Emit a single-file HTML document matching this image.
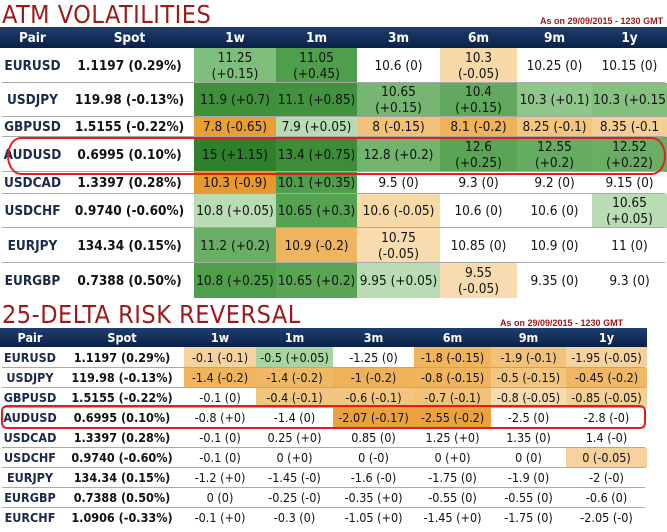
<!DOCTYPE html>
<html><head><meta charset="utf-8">
<style>
body{margin:0;width:667px;height:532px;background:#fff;position:relative;overflow:hidden;font-family:"DejaVu Sans Condensed","Liberation Sans",sans-serif;}
.t{position:absolute;color:#9b1b1b;font-family:"DejaVu Sans Condensed","Liberation Sans",sans-serif;font-size:25px;letter-spacing:0.5px;line-height:1;}
.asof{position:absolute;color:#a01818;font-size:9px;font-weight:bold;font-family:"Liberation Sans",sans-serif;}
.hdr{position:absolute;left:0;background:linear-gradient(#1e3f6e,#0a2148);}
.c{position:absolute;display:flex;align-items:center;justify-content:center;text-align:center;color:#111;box-sizing:border-box;}
.h{color:#fff;font-weight:bold;}
.line{position:absolute;height:1px;background:#a8a8a8;}
.oval{position:absolute;border:2px solid #e02020;border-radius:14px/50%;box-sizing:border-box;}
</style></head><body>
<div class="t" style="left:2px;top:2px">ATM VOLATILITIES</div>
<div class="asof" style="left:540px;top:16px">As on 29/09/2015 - 1230 GMT</div>
<div class="t" style="left:2px;top:302px">25-DELTA RISK REVERSAL</div>
<div class="asof" style="left:500px;top:318px">As on 29/09/2015 - 1230 GMT</div>
<div id="root"></div>
<script>
const headers=["Pair","Spot","1w","1m","3m","6m","9m","1y"];
const pairs1=["EURUSD","USDJPY","GBPUSD","AUDUSD","USDCAD","USDCHF","EURJPY","EURGBP"];
const spots1=["1.1197 (0.29%)","119.98 (-0.13%)","1.5155 (-0.22%)","0.6995 (0.10%)","1.3397 (0.28%)","0.9740 (-0.60%)","134.34 (0.15%)","0.7388 (0.50%)"];
const atm=[
["11.25<br>(+0.15)","11.05<br>(+0.45)","10.6 (0)","10.3<br>(-0.05)","10.25 (0)","10.15 (0)"],
["11.9 (+0.7)","11.1 (+0.85)","10.65<br>(+0.15)","10.4<br>(+0.15)","10.3 (+0.1)","10.3 (+0.15"],
["7.8 (-0.65)","7.9 (+0.05)","8 (-0.15)","8.1 (-0.2)","8.25 (-0.1)","8.35 (-0.1"],
["15 (+1.15)","13.4 (+0.75)","12.8 (+0.2)","12.6<br>(+0.25)","12.55<br>(+0.2)","12.52<br>(+0.22)"],
["10.3 (-0.9)","10.1 (+0.35)","9.5 (0)","9.3 (0)","9.2 (0)","9.15 (0)"],
["10.8 (+0.05)","10.65 (+0.3)","10.6 (-0.05)","10.6 (0)","10.6 (0)","10.65<br>(+0.05)"],
["11.2 (+0.2)","10.9 (-0.2)","10.75<br>(-0.05)","10.85 (0)","10.9 (0)","11 (0)"],
["10.8 (+0.25)","10.65 (+0.2)","9.95 (+0.05)","9.55<br>(-0.05)","9.35 (0)","9.3 (0)"]];
const atmColors=[
["#80bf7b","#4f9e4b","#fff","#f8d9a8","#fff","#fff"],
["#3f8f3b","#42913e","#76b672","#62a85e","#90c68b","#86c080"],
["#e8a035","#badcb4","#f3c27a","#eeb25a","#f3c680","#f5cf95"],
["#2f7f2c","#3c8c38","#72b46e","#5aa456","#66ab62","#6aae66"],
["#e8992e","#4f9e4b","#fff","#fff","#fff","#fff"],
["#badcb4","#55a251","#f8d9a8","#fff","#fff","#badcb4"],
["#6aae66","#edb55f","#f8dcaf","#fff","#fff","#fff"],
["#4f9e4b","#5aa456","#badcb4","#f8dcaf","#fff","#fff"]];
const rowY1=[48,83,117,137,172,194,228,263,298];
const colX1=[0,65,194,276,357,440,517,592,667];
const pairs2=["EURUSD","USDJPY","GBPUSD","AUDUSD","USDCAD","USDCHF","EURJPY","EURGBP","EURCHF"];
const spots2=["1.1197 (0.29%)","119.98 (-0.13%)","1.5155 (-0.22%)","0.6995 (0.10%)","1.3397 (0.28%)","0.9740 (-0.60%)","134.34 (0.15%)","0.7388 (0.50%)","1.0906 (-0.33%)"];
const rr=[
["-0.1 (-0.1)","-0.5 (+0.05)","-1.25 (0)","-1.8 (-0.15)","-1.9 (-0.1)","-1.95 (-0.05)"],
["-1.4 (-0.2)","-1.4 (-0.2)","-1 (-0.2)","-0.8 (-0.15)","-0.5 (-0.15)","-0.45 (-0.2)"],
["-0.1 (0)","-0.4 (-0.1)","-0.6 (-0.1)","-0.7 (-0.1)","-0.8 (-0.05)","-0.85 (-0.05)"],
["-0.8 (+0)","-1.4 (0)","-2.07 (-0.17)","-2.55 (-0.2)","-2.5 (0)","-2.8 (-0)"],
["-0.1 (0)","0.25 (+0)","0.85 (0)","1.25 (+0)","1.35 (0)","1.4 (-0)"],
["-0.1 (0)","0 (+0)","0 (-0)","0 (+0)","0 (0)","0 (-0.05)"],
["-1.2 (+0)","-1.45 (-0)","-1.6 (-0)","-1.75 (0)","-1.9 (0)","-2 (-0)"],
["0 (0)","-0.25 (-0)","-0.35 (+0)","-0.55 (0)","-0.55 (0)","-0.6 (0)"],
["-0.1 (+0)","-0.3 (0)","-1.05 (+0)","-1.45 (+0)","-1.75 (0)","-2.05 (-0)"]];
const rrColors=[
["#f6d29e","#a9d3a1","#fff","#efb45c","#f3c27a","#f6d29e"],
["#efb45c","#f0b865","#eeb25a","#efb45c","#f3c680","#f0b865"],
["#fff","#f3c680","#f3c680","#f3c27a","#f8dcaf","#f5cf95"],
["#fff","#fff","#e9a23e","#e9a23e","#fff","#fff"],
["#fff","#fff","#fff","#fff","#fff","#fff"],
["#fff","#fff","#fff","#fff","#fff","#f6d29e"],
["#fff","#fff","#fff","#fff","#fff","#fff"],
["#fff","#fff","#fff","#fff","#fff","#fff"],
["#fff","#fff","#fff","#fff","#fff","#fff"]];
const rowY2=[347,368,388,408,428,448,468,488,508,528];
const colX2=[0,60,184,256,333,414,491,566,647];

const root=document.getElementById('root');
function box(cls,x,y,w,h,html,fs){
  const d=document.createElement('div');d.className=cls;
  d.style.left=x+'px';d.style.top=y+'px';d.style.width=w+'px';d.style.height=h+'px';
  d.style.fontSize=fs+'px';d.style.lineHeight='16px';d.innerHTML=html;root.appendChild(d);return d;}
function table(prefix,hy,hh,colX,rowY,pairs,spots,vals,cols,fs){
  const hb=document.createElement('div');hb.className='hdr';
  hb.style.top=hy+'px';hb.style.height=hh+'px';hb.style.width=colX[8]+'px';
  
  
  root.appendChild(hb);
  headers.forEach((h,i)=>{const d=box('c h',colX[i],hy,colX[i+1]-colX[i],hh,h,fs);
    
    });
  pairs.forEach((p,r)=>{
    const y=rowY[r],h=rowY[r+1]-y;
    const a=box('c',colX[0],y,colX[1]-colX[0],h,p,fs);a.style.fontWeight='bold';a.style.color='#1a2a4a';
    
    
    const s=box('c',colX[1],y,colX[2]-colX[1],h,spots[r],fs);s.style.fontWeight='bold';
    
    
    vals[r].forEach((v,c)=>{const d=box('c',colX[c+2],y,colX[c+3]-colX[c+2],h,v,fs);
      d.style.background=cols[r][c];
      
      });
    if(r>0){const l=document.createElement('div');l.className='line';
      l.style.left='2px';l.style.top=(y-1)+'px';l.style.width=(colX[8]-4)+'px';
      
      
      root.appendChild(l);}
  });
}
table('atm',27,21,colX1,rowY1,pairs1,spots1,atm,atmColors,13.5);
table('rr',328,19,colX2,rowY2,pairs2,spots2,rr,rrColors,12.5);
const o1=document.createElement('div');o1.className='oval';
o1.style.cssText='left:7px;top:137px;width:659px;height:38px';


root.appendChild(o1);
const o2=document.createElement('div');o2.className='oval';
o2.style.cssText='left:1px;top:405px;width:645px;height:24px;border-radius:6px';


root.appendChild(o2);
</script>
</body></html>
